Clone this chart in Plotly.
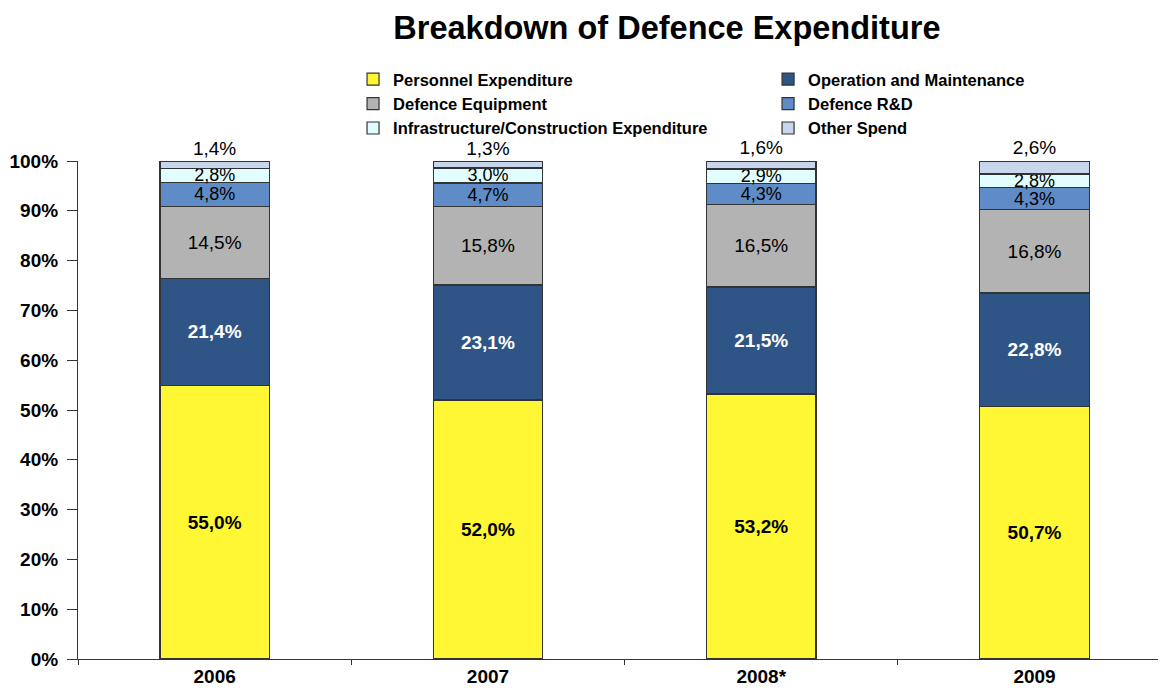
import plotly.graph_objects as go

years = ["2006", "2007", "2008*", "2009"]
series_names = [
    "Personnel Expenditure",
    "Operation and Maintenance",
    "Defence Equipment",
    "Defence R&D",
    "Infrastructure/Construction Expenditure",
    "Other Spend",
]
personnel = [55.0, 52.0, 53.2, 50.7]
operation = [21.4, 23.1, 21.5, 22.8]
equipment = [14.5, 15.8, 16.5, 16.8]
rnd = [4.8, 4.7, 4.3, 4.3]
infra = [2.8, 3.0, 2.9, 2.8]
other = [1.4, 1.3, 1.6, 2.6]
y_ticks = [0, 10, 20, 30, 40, 50, 60, 70, 80, 90, 100]

values = [personnel, operation, equipment, rnd, infra, other]
colors = ["#FFF733", "#2F5587", "#B3B3B3", "#5F8BC6", "#E2FDFD", "#C7D6EC"]
text_colors = ["#000000", "#FFFFFF", "#000000", "#000000", "#000000", "#000000"]
bold = [True, True, False, False, False, False]
font_sizes = [19, 19, 19, 18, 18, 19]
legend_ids = ["legend", "legend2", "legend", "legend2", "legend", "legend2"]

FONT = "Liberation Sans, Arial, sans-serif"

fig = go.Figure()
for i, (name, vals) in enumerate(zip(series_names, values)):
    last = i == len(values) - 1
    fs = font_sizes[i]
    fig.add_trace(go.Bar(
        x=years, y=vals, name=name, legend=legend_ids[i],
        marker=dict(color=colors[i], line=dict(color="#333333", width=1.2)),
        width=0.4,
        texttemplate=("<b>%{y:.1f}%</b>" if bold[i] else "%{y:.1f}%"),
        textposition="outside" if last else "inside",
        insidetextanchor="middle",
        constraintext="none",
        cliponaxis=False,
        textfont=dict(family=FONT, size=fs, color=text_colors[i]),
        insidetextfont=dict(family=FONT, size=fs, color=text_colors[i]),
        outsidetextfont=dict(family=FONT, size=fs, color="#000000"),
        hoverinfo="skip",
    ))

legend_common = dict(
    orientation="v", yanchor="top", xanchor="left", traceorder="normal",
    itemwidth=30, bgcolor="rgba(0,0,0,0)", borderwidth=0,
    font=dict(family=FONT, size=16.5, color="#000000", weight="bold"),
)

# The page body has an 8px margin, so the figure is sized 8px smaller
# than the window and positioned accordingly.
W, H = 1158, 685
fig.update_layout(
    barmode="stack",
    separators=",.",
    width=W, height=H,
    margin=dict(l=70, r=3, t=153, b=34, autoexpand=False),
    paper_bgcolor="white", plot_bgcolor="white",
    title=dict(text="<b>Breakdown of Defence Expenditure</b>",
               x=0.569, xanchor="center", y=0.988, yanchor="top",
               font=dict(family=FONT, size=32.5, color="#000000")),
    legend=dict(x=0.2535, y=1.199, **legend_common),
    legend2=dict(x=0.636, y=1.199, **legend_common),
    showlegend=True,
)
fig.update_yaxes(range=[0, 100], tickmode="array", tickvals=y_ticks,
                 ticktext=[f"<b>{v}%</b>" for v in y_ticks],
                 showgrid=False, zeroline=False, showline=True, linecolor="#333333",
                 linewidth=1.2, ticks="outside", ticklen=10, tickcolor="#333333",
                 ticklabelstandoff=5,
                 automargin=False,
                 tickfont=dict(family=FONT, size=19, color="#000000"))
fig.update_xaxes(showgrid=False, showline=True, linecolor="#333333", linewidth=1.2,
                 ticks="outside", tickson="boundaries", ticklen=5, tickcolor="#333333",
                 range=[-0.5, 3.47], automargin=False,
                 tickmode="array", tickvals=years,
                 ticktext=[f"<b>{y}</b>" for y in years],
                 tickfont=dict(family=FONT, size=19, color="#000000"))

fig.write_html("out.html")
